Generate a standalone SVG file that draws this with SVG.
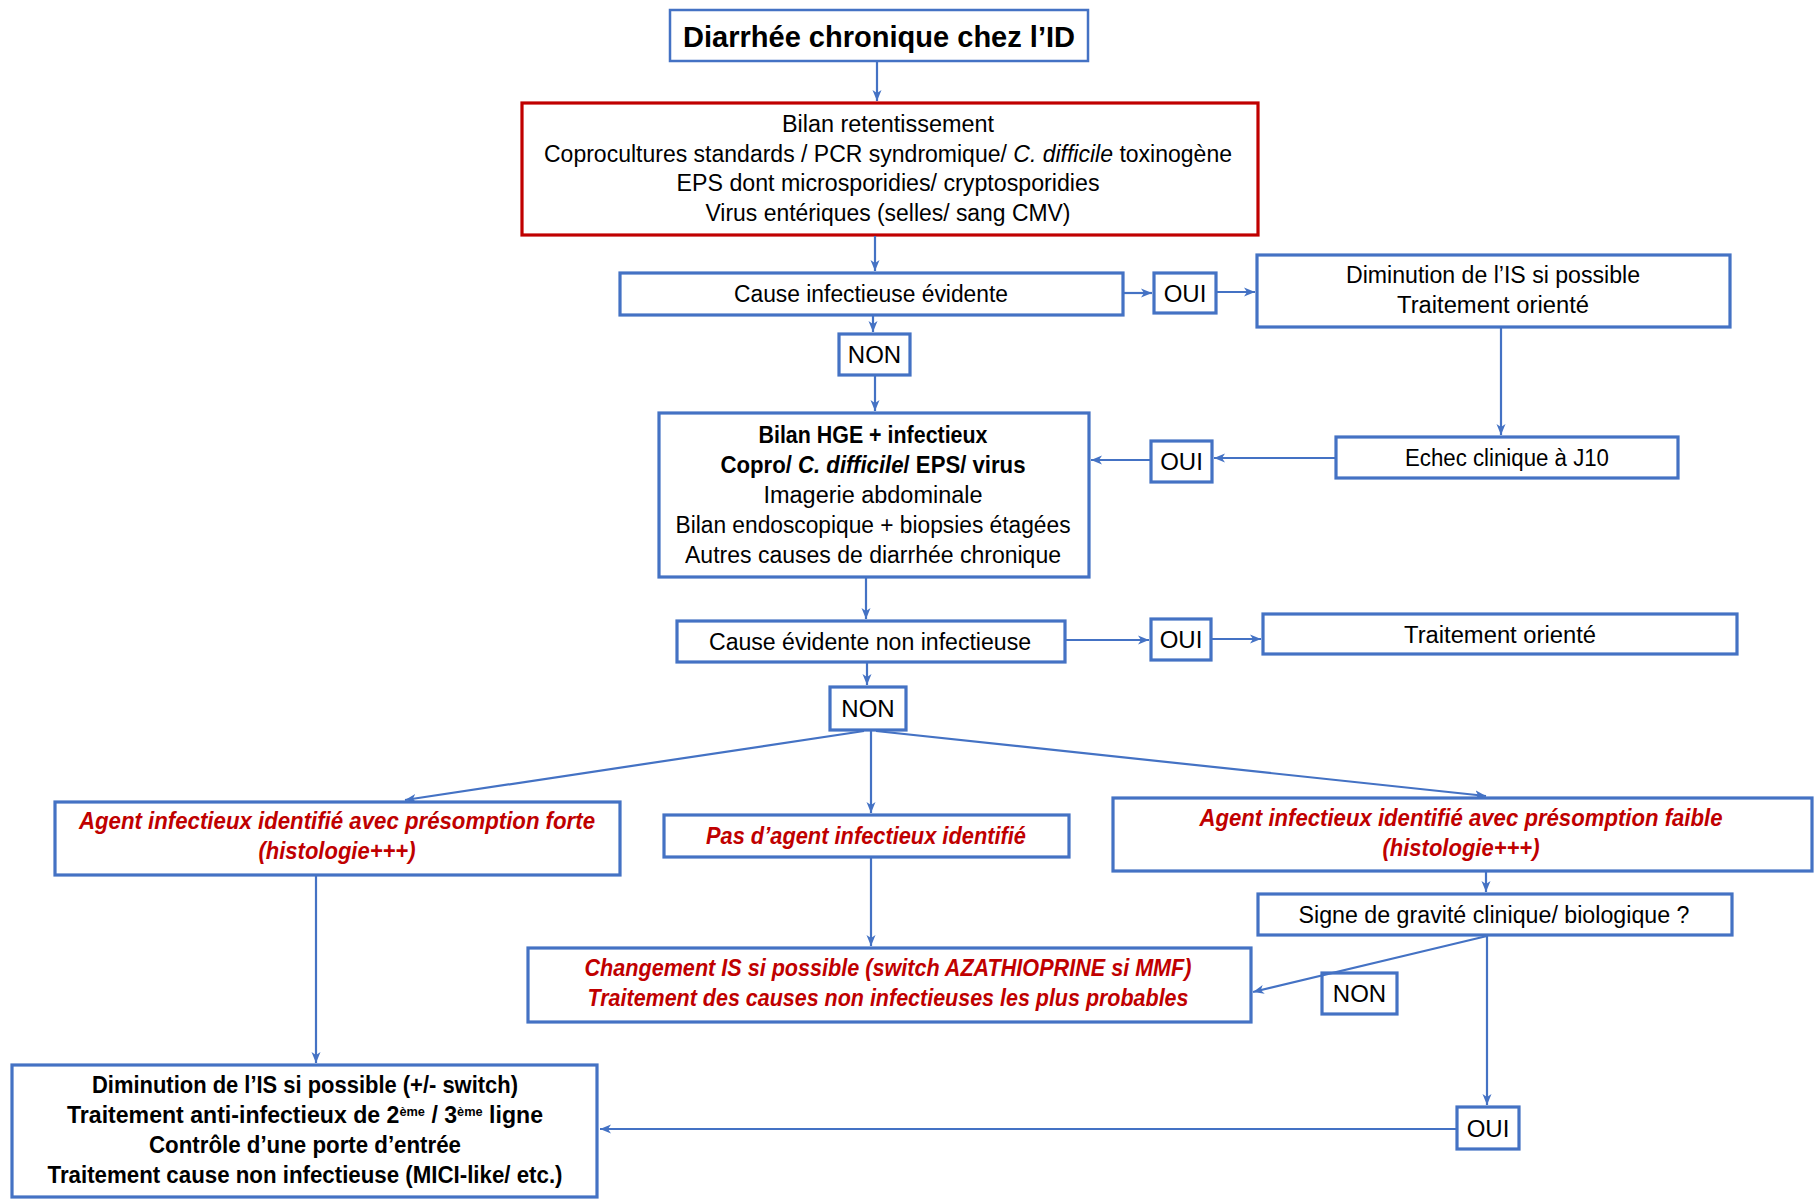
<svg xmlns="http://www.w3.org/2000/svg" width="1816" height="1199" viewBox="0 0 1816 1199">
<defs>
<marker id="ah" markerUnits="userSpaceOnUse" markerWidth="12" markerHeight="12" viewBox="0 0 12 12" refX="11" refY="6" orient="auto">
<path d="M0,1.5 L11,6 L0,10.5 L3,6 Z" fill="#4472C4"/>
</marker>
</defs>
<style>
rect{fill:#fff;stroke:#4472C4;stroke-width:3.2}
rect.red{stroke:#C00000}
text{font-family:"Liberation Sans",Arial,sans-serif;font-size:23.5px;fill:#000;text-anchor:middle}
.b{font-weight:bold}
.ri{font-weight:bold;font-style:italic;fill:#C00000}
.t{font-size:30px;font-weight:bold}
.lb{font-size:24px}
#connectors line{stroke:#4472C4;stroke-width:2.2;fill:none;marker-end:url(#ah)}
</style>

<g id="title">
<rect x="670" y="10" width="418" height="51" style="stroke-width:2.5"/>
<text class="t" x="879" y="47" textLength="392" lengthAdjust="spacingAndGlyphs">Diarrhée chronique chez l’ID</text>
</g>

<g id="bilan1">
<rect class="red" x="522" y="103" width="736" height="132"/>
<text x="888" y="132" textLength="212" lengthAdjust="spacingAndGlyphs">Bilan retentissement</text>
<text x="888" y="162" textLength="688" lengthAdjust="spacingAndGlyphs">Coprocultures standards / PCR syndromique/ <tspan font-style="italic">C. difficile</tspan> toxinogène</text>
<text x="888" y="191" textLength="423" lengthAdjust="spacingAndGlyphs">EPS dont microsporidies/ cryptosporidies</text>
<text x="888" y="221" textLength="365" lengthAdjust="spacingAndGlyphs">Virus entériques (selles/ sang CMV)</text>
</g>

<g id="causeInf">
<rect x="620" y="273" width="503" height="42"/>
<text x="871" y="302" textLength="274" lengthAdjust="spacingAndGlyphs">Cause infectieuse évidente</text>
</g>

<g id="oui1">
<rect x="1154" y="273" width="62" height="40"/>
<text class="lb" x="1185" y="302">OUI</text>
</g>

<g id="diminution">
<rect x="1257" y="255" width="473" height="72"/>
<text x="1493" y="283" textLength="294" lengthAdjust="spacingAndGlyphs">Diminution de l’IS si possible</text>
<text x="1493" y="313" textLength="192" lengthAdjust="spacingAndGlyphs">Traitement orienté</text>
</g>

<g id="non1">
<rect x="839" y="334" width="71" height="41"/>
<text class="lb" x="874.5" y="363">NON</text>
</g>

<g id="bilanHGE">
<rect x="659" y="413" width="430" height="164"/>
<text class="b" x="873" y="443" textLength="229" lengthAdjust="spacingAndGlyphs">Bilan HGE + infectieux</text>
<text class="b" x="873" y="473" textLength="305" lengthAdjust="spacingAndGlyphs">Copro/ <tspan font-style="italic">C. difficile</tspan>/ EPS/ virus</text>
<text x="873" y="503" textLength="219" lengthAdjust="spacingAndGlyphs">Imagerie abdominale</text>
<text x="873" y="533" textLength="395" lengthAdjust="spacingAndGlyphs">Bilan endoscopique + biopsies étagées</text>
<text x="873" y="563" textLength="376" lengthAdjust="spacingAndGlyphs">Autres causes de diarrhée chronique</text>
</g>

<g id="oui2">
<rect x="1151" y="441" width="61" height="41"/>
<text class="lb" x="1181.5" y="470">OUI</text>
</g>

<g id="echec">
<rect x="1336" y="437" width="342" height="41"/>
<text x="1507" y="466" textLength="204" lengthAdjust="spacingAndGlyphs">Echec clinique à J10</text>
</g>

<g id="causeEvid">
<rect x="677" y="621" width="388" height="41"/>
<text x="870" y="650" textLength="322" lengthAdjust="spacingAndGlyphs">Cause évidente non infectieuse</text>
</g>

<g id="oui3">
<rect x="1151" y="619" width="60" height="41"/>
<text class="lb" x="1181" y="648">OUI</text>
</g>

<g id="traitOriente">
<rect x="1263" y="614" width="474" height="40"/>
<text x="1500" y="643" textLength="192" lengthAdjust="spacingAndGlyphs">Traitement orienté</text>
</g>

<g id="non2">
<rect x="830" y="687" width="76" height="43"/>
<text class="lb" x="868" y="717">NON</text>
</g>

<g id="agentForte">
<rect x="55" y="802" width="565" height="73"/>
<text class="ri" x="337" y="829" textLength="516" lengthAdjust="spacingAndGlyphs">Agent infectieux identifié avec présomption forte</text>
<text class="ri" x="337" y="859" textLength="157" lengthAdjust="spacingAndGlyphs">(histologie+++)</text>
</g>

<g id="pasAgent">
<rect x="664" y="815" width="405" height="42"/>
<text class="ri" x="866" y="844" textLength="320" lengthAdjust="spacingAndGlyphs">Pas d’agent infectieux identifié</text>
</g>

<g id="agentFaible">
<rect x="1113" y="798" width="699" height="73"/>
<text class="ri" x="1461" y="826" textLength="523" lengthAdjust="spacingAndGlyphs">Agent infectieux identifié avec présomption faible</text>
<text class="ri" x="1461" y="856" textLength="157" lengthAdjust="spacingAndGlyphs">(histologie+++)</text>
</g>

<g id="signe">
<rect x="1258" y="894" width="474" height="41"/>
<text x="1494" y="923" textLength="391" lengthAdjust="spacingAndGlyphs">Signe de gravité clinique/ biologique ?</text>
</g>

<g id="changement">
<rect x="528" y="948" width="723" height="74"/>
<text class="ri" x="888" y="976" textLength="607" lengthAdjust="spacingAndGlyphs">Changement IS si possible (switch AZATHIOPRINE si MMF)</text>
<text class="ri" x="888" y="1006" textLength="601" lengthAdjust="spacingAndGlyphs">Traitement des causes non infectieuses les plus probables</text>
</g>

<g id="traitFinal">
<rect x="12" y="1065" width="585" height="132"/>
<text class="b" x="305" y="1093" textLength="426" lengthAdjust="spacingAndGlyphs">Diminution de l’IS si possible (+/- switch)</text>
<text class="b" x="305" y="1123" textLength="476" lengthAdjust="spacingAndGlyphs">Traitement anti-infectieux de 2<tspan font-size="13" dy="-7">ème</tspan><tspan dy="7"> / 3</tspan><tspan font-size="13" dy="-7">ème</tspan><tspan dy="7"> ligne</tspan></text>
<text class="b" x="305" y="1153" textLength="312" lengthAdjust="spacingAndGlyphs">Contrôle d’une porte d’entrée</text>
<text class="b" x="305" y="1183" textLength="515" lengthAdjust="spacingAndGlyphs">Traitement cause non infectieuse (MICI-like/ etc.)</text>
</g>

<g id="non3">
<rect x="1322" y="973" width="75" height="41"/>
<text class="lb" x="1359.5" y="1002">NON</text>
</g>

<g id="oui4">
<rect x="1457" y="1107" width="62" height="42"/>
<text class="lb" x="1488" y="1137">OUI</text>
</g>

<g id="connectors">
<line x1="877" y1="62" x2="877" y2="101"/>
<line x1="875" y1="236" x2="875" y2="271"/>
<line x1="1124" y1="293" x2="1152" y2="293"/>
<line x1="1217" y1="292" x2="1255" y2="292"/>
<line x1="873" y1="316" x2="873" y2="332"/>
<line x1="875" y1="376" x2="875" y2="411"/>
<line x1="1501" y1="328" x2="1501" y2="435"/>
<line x1="1335" y1="458" x2="1214" y2="458"/>
<line x1="1150" y1="460" x2="1091" y2="460"/>
<line x1="866" y1="578" x2="866" y2="619"/>
<line x1="1066" y1="640" x2="1149" y2="640"/>
<line x1="1212" y1="639" x2="1261" y2="639"/>
<line x1="867" y1="663" x2="867" y2="685"/>
<line x1="864" y1="731" x2="405" y2="800"/>
<line x1="871" y1="731" x2="871" y2="813"/>
<line x1="876" y1="731" x2="1486" y2="796"/>
<line x1="316" y1="876" x2="316" y2="1063"/>
<line x1="871" y1="858" x2="871" y2="946"/>
<line x1="1486" y1="872" x2="1486" y2="892"/>
<line x1="1487" y1="936" x2="1253" y2="992"/>
<line x1="1487" y1="936" x2="1487" y2="1105"/>
<line x1="1457" y1="1129" x2="600" y2="1129"/>
</g>
</svg>
